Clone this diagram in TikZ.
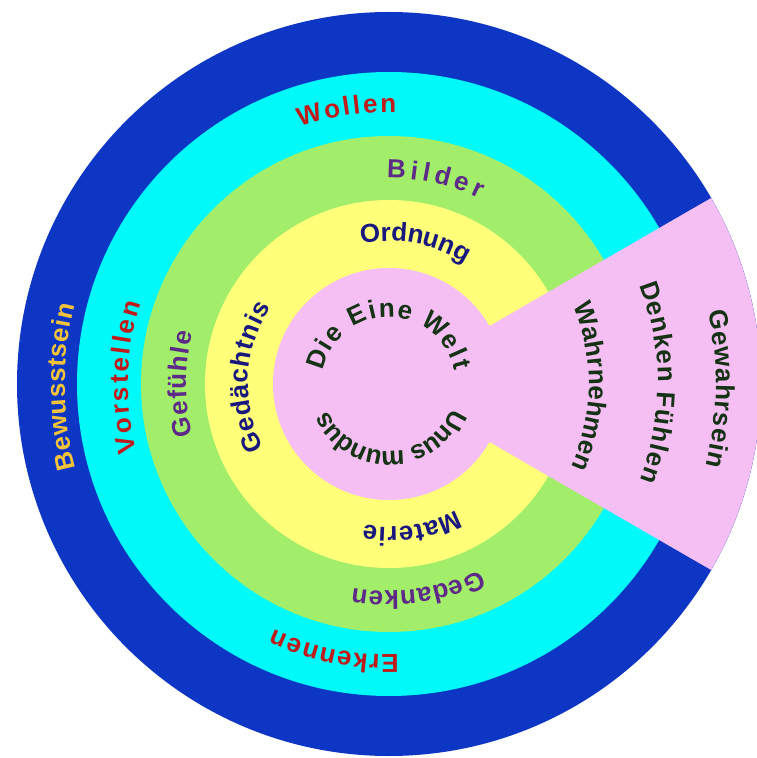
\documentclass[tikz,border=0pt]{standalone}
\usepackage{fontspec}
\setmainfont{Liberation Sans}
\usepackage{tikz}
\usetikzlibrary{decorations.text}
\definecolor{wlblue}{HTML}{0E36C4}
\definecolor{wlcyan}{HTML}{00FAFA}
\definecolor{wlgreen}{HTML}{A2EE6A}
\definecolor{wlyellow}{HTML}{FFFF7A}
\definecolor{wlpink}{HTML}{F6BFF4}
\definecolor{wlred}{HTML}{C01A1A}
\definecolor{wlpurple}{HTML}{5E2A88}
\definecolor{wlnavy}{HTML}{18187E}
\definecolor{wldark}{HTML}{143214}
\definecolor{wlgold}{HTML}{F2C23A}

\begin{document}
\begin{tikzpicture}[x=1pt, y=1pt,
  ringtext/.style={decorate, decoration={text along path, text align=fit to path, raise=-9pt, text color=#1}},
]
  \fill[white] (-389,-374) rectangle (368,384);
  \useasboundingbox (-389,-374) rectangle (368,384);

  % Rings
  \fill[wlblue] (0,0) circle[radius=372];
  \fill[wlcyan] (0,0) circle[radius=312];
  \fill[wlgreen] (0,0) circle[radius=248];
  \fill[wlyellow] (0,0) circle[radius=184];

  % Wedge and core
  \fill[wlpink] (0,0) -- (30:372) arc[start angle=30, end angle=-30, radius=372] -- cycle;
  \fill[wlpink] (0,0) circle[radius=116];

  % Ring words
  \fontsize{26}{30}\selectfont\bfseries
  \foreach \r/\a/\b/\col/\word in {333/195/166/wlgold/Bewusstsein,
      270/195/162/wlred/Vorstellen, 212/194.5/165.5/wlpurple/Gefühle,
      150/207/147/wlnavy/Gedächtnis, 281/109/88.5/wlred/Wollen,
      215/90.5/64/wlpurple/Bilder, 152/101/58/wlnavy/Ordnung,
      152/-62/-100/wlnavy/Materie, 216/-64/-100/wlpurple/Gedanken,
      280/-88/-115/wlred/Erkennen, 209/23/-24.5/wldark/Wahrnehmen,
      278/21.5/-21/wldark/Denken Fühlen, 336/12.7/-14.5/wldark/Gewahrsein} {
    \path[ringtext=\col, decoration={text/.expanded=\word}]
      (\a:\r) arc[start angle=\a, end angle=\b, radius=\r];
  }

  % Core words
  \foreach \a/\b/\word in {168/12/Die Eine Welt, -22/-156/Unus mundus} {
    \path[ringtext=wldark, decoration={text/.expanded=\word}]
      (\a:76) arc[start angle=\a, end angle=\b, radius=76];
  }
\end{tikzpicture}
\end{document}
